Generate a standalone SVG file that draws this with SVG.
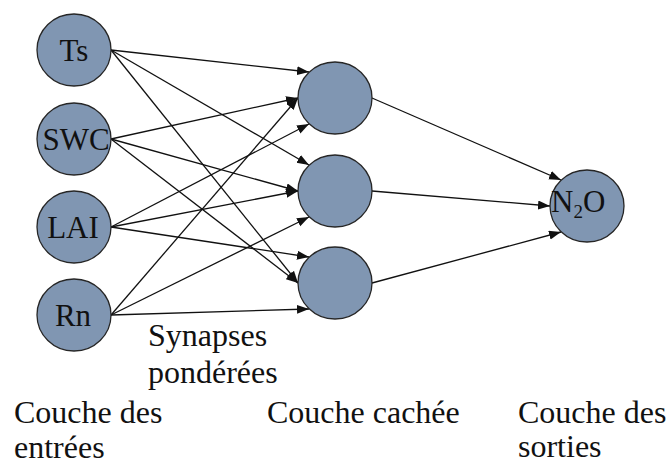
<svg xmlns="http://www.w3.org/2000/svg" width="668" height="464" viewBox="0 0 668 464">
<style>
.node{fill:#8096B2;stroke:#262626;stroke-width:1.3}
text{font-family:'Liberation Serif','Times New Roman','DejaVu Serif',serif;fill:#111}
.lbl{font-size:31px;text-anchor:middle}
.cap{font-size:32px}
.edge{stroke:#111;stroke-width:1.3;fill:none;marker-end:url(#arr)}
</style>
<defs>
<marker id="arr" markerUnits="userSpaceOnUse" markerWidth="13" markerHeight="10" refX="12" refY="4.5" orient="auto">
<path d="M0,0 L12,4.5 L0,9 z" fill="#111"/>
</marker>
</defs>
<rect width="668" height="464" fill="#fff"/>
<g id="connectors">
<line class="edge" x1="111" y1="50" x2="309" y2="72"/>
<line class="edge" x1="111" y1="50" x2="309" y2="165"/>
<line class="edge" x1="111" y1="50" x2="298" y2="283"/>
<line class="edge" x1="111" y1="139" x2="298" y2="98"/>
<line class="edge" x1="111" y1="139" x2="298" y2="191"/>
<line class="edge" x1="111" y1="139" x2="298" y2="283"/>
<line class="edge" x1="111" y1="227" x2="309" y2="124"/>
<line class="edge" x1="111" y1="227" x2="298" y2="191"/>
<line class="edge" x1="111" y1="227" x2="309" y2="257"/>
<line class="edge" x1="111" y1="315" x2="298" y2="98"/>
<line class="edge" x1="111" y1="315" x2="309" y2="217"/>
<line class="edge" x1="111" y1="315" x2="309" y2="309"/>
<line class="edge" x1="372" y1="98" x2="561" y2="180"/>
<line class="edge" x1="372" y1="191" x2="550" y2="206"/>
<line class="edge" x1="372" y1="283" x2="561" y2="232"/>
</g>
<g id="in-ts"><ellipse class="node" cx="74" cy="50" rx="37" ry="36"/><text class="lbl" x="74" y="61" font-family="Liberation Serif, serif">Ts</text></g>
<g id="in-swc"><ellipse class="node" cx="74" cy="139" rx="37" ry="36"/><text class="lbl" x="76" y="150" font-family="Liberation Serif, serif">SWC</text></g>
<g id="in-lai"><ellipse class="node" cx="74" cy="227" rx="37" ry="36"/><text class="lbl" x="73" y="238" font-family="Liberation Serif, serif">LAI</text></g>
<g id="in-rn"><ellipse class="node" cx="74" cy="315" rx="37" ry="36"/><text class="lbl" x="73" y="326" font-family="Liberation Serif, serif">Rn</text></g>
<g id="hid-1"><ellipse class="node" cx="335" cy="98" rx="37" ry="36"/></g>
<g id="hid-2"><ellipse class="node" cx="335" cy="191" rx="37" ry="36"/></g>
<g id="hid-3"><ellipse class="node" cx="335" cy="283" rx="37" ry="36"/></g>
<g id="out-n2o"><ellipse class="node" cx="587" cy="206" rx="37" ry="36"/><text class="lbl" x="551" y="212" style="text-anchor:start" font-family="Liberation Serif, serif">N<tspan font-size="19" dy="6">2</tspan><tspan dy="-6">O</tspan></text></g>
<g id="labels" font-family="Liberation Serif, serif">
<text class="cap" x="148" y="346">Synapses</text>
<text class="cap" x="148" y="383">pondérées</text>
<text class="cap" x="14" y="423">Couche des</text>
<text class="cap" x="14" y="458">entrées</text>
<text class="cap" x="267" y="423">Couche cachée</text>
<text class="cap" x="518" y="423">Couche des</text>
<text class="cap" x="518" y="457">sorties</text>
</g>
</svg>
